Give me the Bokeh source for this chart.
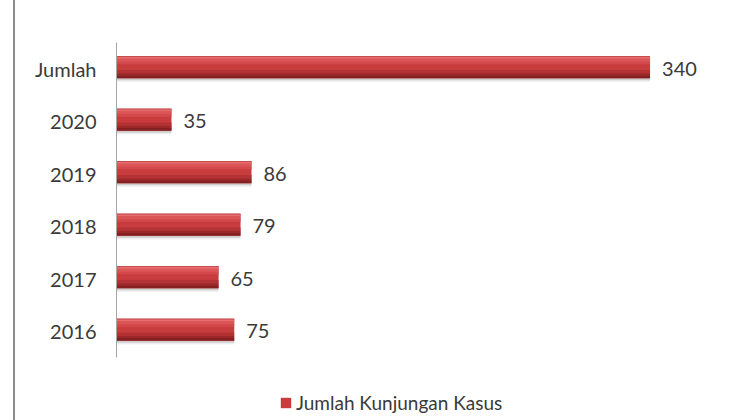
from bokeh.plotting import figure
from bokeh.models import Range1d, Legend, LegendItem, ColumnDataSource, FixedTicker
from bokeh.transform import dodge
from bokeh.embed import file_html
from bokeh.resources import INLINE
from bokeh.core.properties import value

categories = ["2016", "2017", "2018", "2019", "2020", "Jumlah"]
values = [75, 65, 79, 86, 35, 340]
series_name = "Jumlah Kunjungan Kasus"

FONT = "Lato"
TXT = "#3a3a3a"

pos = list(range(len(categories)))
src = ColumnDataSource(dict(pos=pos, cat=categories, val=values, lbl=[str(v) for v in values]))

n = len(categories)
UNIT = 52.5          # pixels per category
FRAME_H = 378        # frame from y=42 to bottom of figure
p = figure(width=730, height=420, output_backend="svg", toolbar_location=None,
           y_range=Range1d(n - 0.5 - FRAME_H / UNIT, n - 0.5),
           x_range=Range1d(0, 390),
           min_border_left=101, min_border_right=17, min_border_top=42, min_border_bottom=0)
p.styles = {"margin-left": "13px", "border-left": "2px solid #8c8c8c"}
p.outline_line_color = None
p.grid.visible = False
p.xaxis.visible = False
p.yaxis.ticker = FixedTicker(ticks=pos)
p.yaxis.major_label_overrides = {i: c for i, c in zip(pos, categories)}
p.yaxis.bounds = (-0.5, n - 0.5)
p.yaxis.axis_line_color = "#a6a6a6"
p.yaxis.axis_line_width = 1
p.yaxis.major_tick_line_color = None
p.yaxis.minor_tick_line_color = None
p.yaxis.major_label_text_font = FONT
p.yaxis.major_label_text_font_size = "20px"
p.yaxis.major_label_text_color = TXT
p.yaxis.major_label_standoff = 14

c = 0.03
H = 0.42
# soft shadow
for k, a in [(0.07, 0.05), (0.05, 0.07), (0.035, 0.08)]:
    p.hbar(y=dodge("pos", c - k), right="val", left=0, height=H, source=src,
           fill_color="#000000", fill_alpha=a, line_color=None)

# full bar in the mid colour
base = p.hbar(y=dodge("pos", c), right="val", left=0, height=H, source=src,
              fill_color="#c83c3e", line_color=None)
# shading bands (offset from centre, height, colour)
bands = [
    (0.155, 0.11, "#dc5658"),
    (0.185, 0.035, "#e56e70"),
    (0.08, 0.05, "#d44a4c"),
    (-0.085, 0.06, "#b33235"),
    (-0.14, 0.05, "#9c282b"),
    (-0.185, 0.05, "#852022"),
]
for off, h, col in bands:
    p.hbar(y=dodge("pos", c + off), right="val", left=0, height=h, source=src,
           fill_color=col, line_color=None)
# thin top edge
p.hbar(y=dodge("pos", c + H / 2 - 0.008), right="val", left=0, height=0.016, source=src,
       fill_color="#bf4446", line_color=None)

p.text(x="val", y="pos", text="lbl", source=src, x_offset=12, y_offset=0,
       text_font=value(FONT), text_font_size="20px", text_color=TXT,
       text_align="left", text_baseline="middle")

legend = Legend(items=[LegendItem(label=series_name, renderers=[base])],
                location=(163, 6), orientation="horizontal",
                label_text_font=FONT, label_text_font_size="19px", label_text_color=TXT,
                glyph_width=13, glyph_height=13, label_standoff=4,
                border_line_color=None, background_fill_alpha=0, padding=0, margin=0)
p.add_layout(legend, "center")

open("out.html", "w").write(file_html(p, INLINE))
